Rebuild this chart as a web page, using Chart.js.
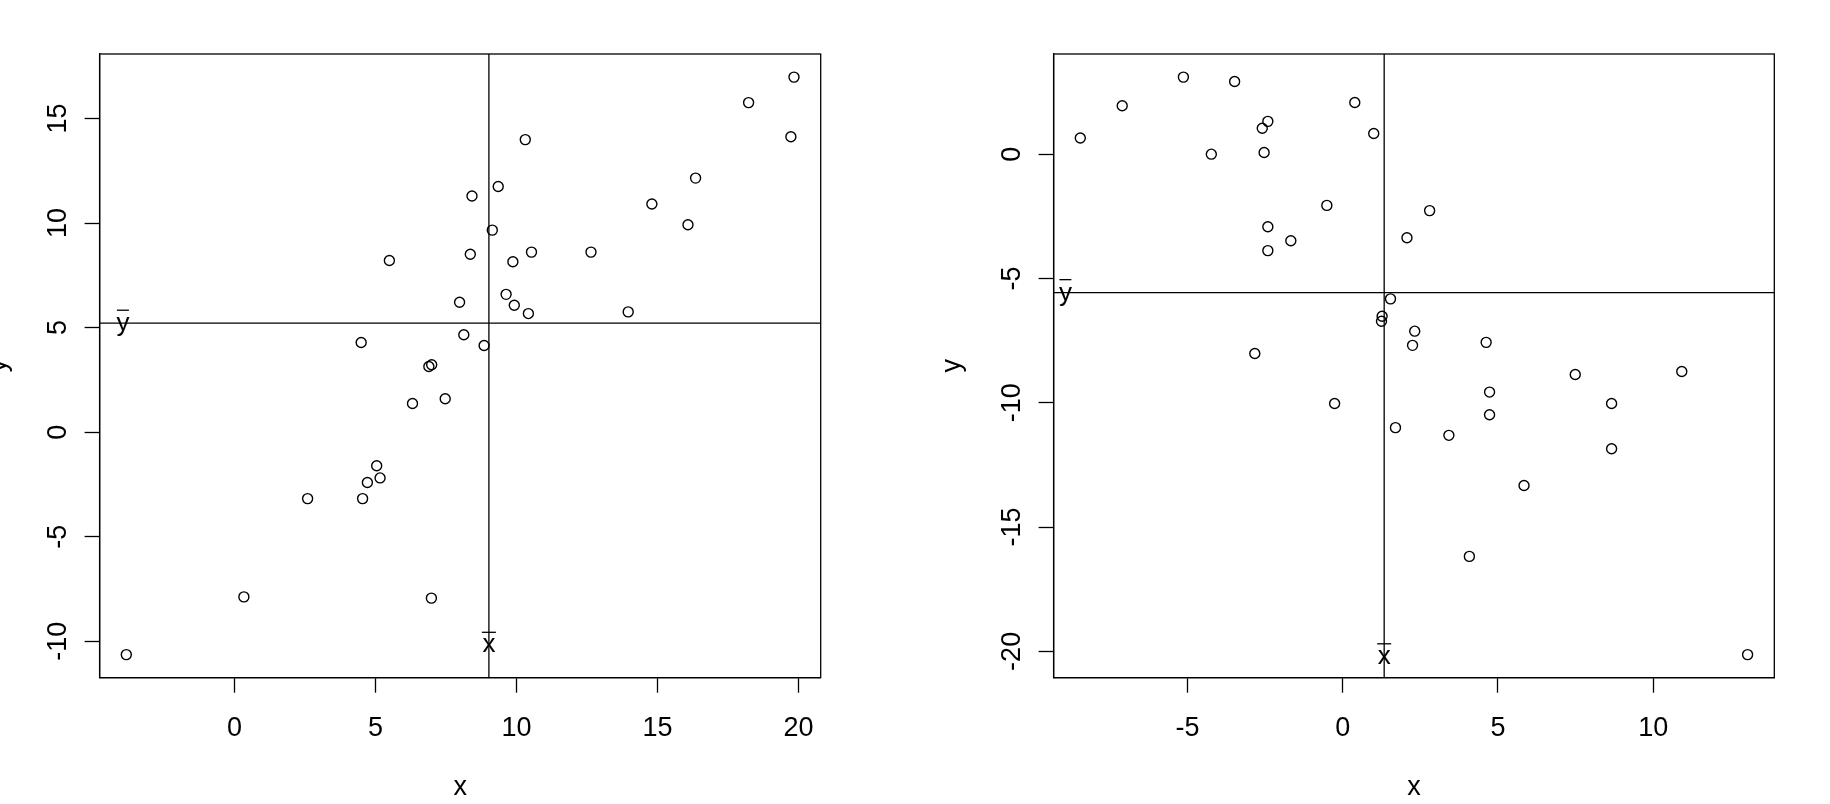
<!DOCTYPE html>
<html>
<head>
<meta charset="utf-8">
<script src="https://cdn.jsdelivr.net/npm/chart.js@4"></script>
<style>
    html, body { margin: 0; padding: 0; background: #fff; overflow: hidden; }
    body { width: 1830px; height: 804px; position: relative; }
    canvas { position: absolute; top: 0; }
    #left { left: -39px; }
    #right { left: 915px; }
</style>
</head>
<body>
<canvas id="left" width="954" height="804"></canvas>
<canvas id="right" width="915" height="804"></canvas>
<script>
// left panel
const xLeft = [5.49, 4.49, 8.42, 8.36, 7.98, 8.13, 8.85, 9.14, 6.89, 6.99, 6.31, 7.47,
    19.84, 18.23, 19.73, 10.31, 16.35, 14.80, 16.08, 9.35, 10.53, 12.64, 9.87, 9.63,
    9.92, 10.42, 13.96, 5.04, 5.16, 4.71, 4.54, 2.59, 0.33, 6.98, -3.84];
const yLeft = [8.21, 4.29, 11.29, 8.51, 6.21, 4.66, 4.14, 9.66, 3.14, 3.22, 1.37, 1.60,
    16.98, 15.76, 14.13, 13.99, 12.15, 10.91, 9.92, 11.75, 8.61, 8.61, 8.15, 6.59,
    6.07, 5.67, 5.75, -1.61, -2.19, -2.41, -3.18, -3.18, -7.88, -7.94, -10.64];
const leftXTicks = [0, 5, 10, 15, 20];
const leftYTicks = [-10, -5, 0, 5, 10, 15];

// right panel
const xRight = [-8.45, -7.10, -5.13, -3.48, -4.23, 0.39, 1.00, -2.59, -2.41, -2.53, -0.51, -2.41,
    -2.41, -1.67, -2.83, -0.26, 2.80, 2.07, 1.54, 1.27, 1.25, 2.32, 2.25, 1.70,
    4.62, 7.49, 10.92, 4.73, 8.66, 4.73, 3.42, 8.66, 5.84, 4.08, 13.04];
const yRight = [0.65, 1.95, 3.10, 2.92, 0.00, 2.08, 0.83, 1.04, 1.32, 0.07, -2.06, -2.92,
    -3.88, -3.48, -8.02, -10.03, -2.27, -3.36, -5.82, -6.52, -6.72, -7.12, -7.69, -11.00,
    -7.57, -8.86, -8.74, -9.57, -10.03, -10.48, -11.31, -11.85, -13.33, -16.18, -20.13];
const rightXTicks = [-5, 0, 5, 10];
const rightYTicks = [-20, -15, -10, -5, 0];

const FONT = "'Liberation Sans', Arial, sans-serif";

const mean = (arr) => arr.reduce((a, b) => a + b, 0) / arr.length;

// R style axis range: data range stretched by 4% on each side
function axisRange(arr) {
    const lo = Math.min(...arr), hi = Math.max(...arr);
    const pad = (hi - lo) * 0.04;
    return [lo - pad, hi + pad];
}

// plot box + the x-bar / y-bar labels
const boxAndBars = {
    id: 'boxAndBars',
    afterDatasetsDraw(chart, args, opts) {
        const ctx = chart.ctx;
        const a = chart.chartArea;
        const xs = chart.scales.x, ys = chart.scales.y;
        ctx.save();
        ctx.strokeStyle = '#000';
        ctx.lineWidth = 1.3;
        ctx.strokeRect(a.left, a.top, a.right - a.left, a.bottom - a.top);

        ctx.fillStyle = '#000';
        ctx.font = '26px ' + FONT;
        ctx.textAlign = 'center';
        ctx.textBaseline = 'alphabetic';

        let cx = xs.getPixelForValue(opts.yLabelX);
        let base = ys.getPixelForValue(opts.ybar) + 8;
        ctx.fillText('y', cx, base);
        ctx.beginPath();
        ctx.moveTo(cx - 6, base - 21);
        ctx.lineTo(cx + 6, base - 21);
        ctx.stroke();

        cx = xs.getPixelForValue(opts.xbar);
        base = ys.getPixelForValue(opts.xLabelY);
        ctx.fillText('x', cx, base);
        ctx.beginPath();
        ctx.moveTo(cx - 7, base - 20);
        ctx.lineTo(cx + 7, base - 20);
        ctx.stroke();
        ctx.restore();
    }
};

function makeScatter(canvasId, xs, ys, xTicks, yTicks, padRight, yLabelX, xLabelY) {
    const [xmin, xmax] = axisRange(xs);
    const [ymin, ymax] = axisRange(ys);
    const xbar = mean(xs), ybar = mean(ys);
    const points = xs.map((x, i) => ({x: x, y: ys[i]}));

    const axisStyle = (ticks, isY, width) => ({
        type: 'linear',
        min: isY ? ymin : xmin,
        max: isY ? ymax : xmax,
        afterBuildTicks: (scale) => { scale.ticks = ticks.map((v) => ({value: v})); },
        afterFit: (scale) => {
            if (isY) scale.width = width; else scale.height = width;
        },
        grid: {
            drawOnChartArea: false,
            drawTicks: true,
            tickLength: 15,
            tickWidth: 1.3,
            tickColor: '#000',
            color: '#000'
        },
        border: { display: true, color: '#000', width: 1.3 },
        ticks: {
            autoSkip: false,
            color: '#000',
            padding: isY ? 6.5 : 20,
            minRotation: isY ? 90 : 0,
            maxRotation: isY ? 90 : 0,
            crossAlign: isY ? 'center' : 'near',
            font: { family: FONT, size: 27 }
        },
        title: {
            display: true,
            text: isY ? 'y' : 'x',
            color: '#000',
            padding: isY ? { top: 21.4, bottom: 0 } : { top: 0, bottom: 0 },
            font: { family: FONT, size: 27 }
        }
    });

    return new Chart(document.getElementById(canvasId), {
        type: 'scatter',
        data: {
            datasets: [{
                data: points,
                pointStyle: 'circle',
                pointRadius: 5,
                pointHoverRadius: 5,
                borderColor: '#000',
                backgroundColor: 'rgba(0,0,0,0)',
                borderWidth: 1.4,
                showLine: false
            }, {
                data: [{x: xmin, y: ybar}, {x: xmax, y: ybar}],
                showLine: true,
                pointRadius: 0,
                borderColor: '#000',
                borderWidth: 1.3
            }, {
                data: [{x: xbar, y: ymin}, {x: xbar, y: ymax}],
                showLine: true,
                pointRadius: 0,
                borderColor: '#000',
                borderWidth: 1.3
            }]
        },
        options: {
            responsive: false,
            animation: false,
            devicePixelRatio: 1,
            layout: {
                padding: { top: 54, right: padRight, bottom: 0, left: 0 }
            },
            scales: {
                x: axisStyle(xTicks, false, 126.3),
                y: axisStyle(yTicks, true, 138.6)
            },
            plugins: {
                legend: { display: false },
                tooltip: { enabled: false },
                boxAndBars: { xbar: xbar, ybar: ybar, yLabelX: yLabelX, xLabelY: xLabelY }
            }
        },
        plugins: [boxAndBars]
    });
}

makeScatter('left', xLeft, yLeft, leftXTicks, leftYTicks, 94.3, -3.96, -10.53);
makeScatter('right', xRight, yRight, rightXTicks, rightYTicks, 55.7, -8.93, -20.5);
</script>
</body>
</html>
